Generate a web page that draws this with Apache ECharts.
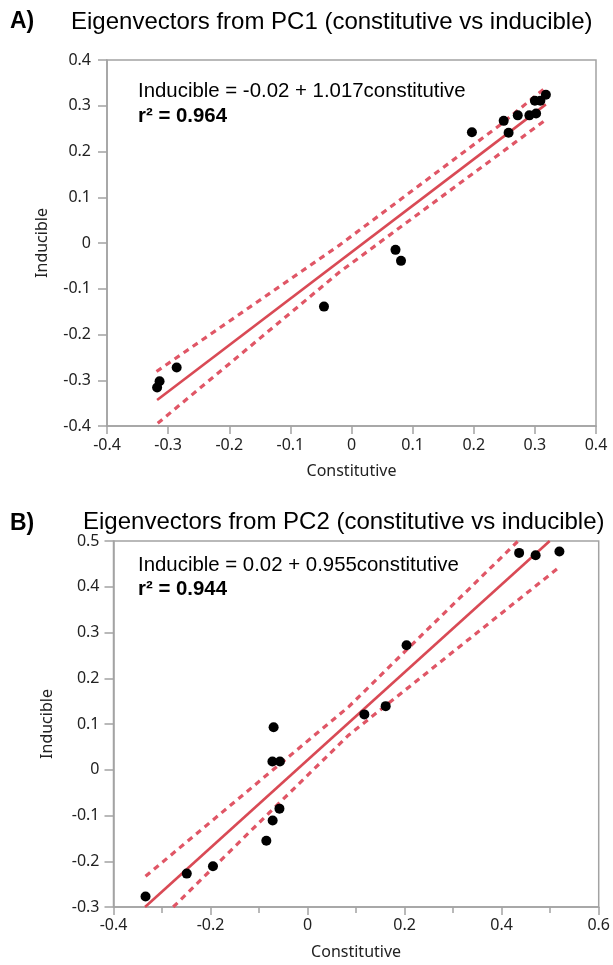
<!DOCTYPE html>
<html>
<head>
<meta charset="utf-8">
<script src="https://cdn.jsdelivr.net/npm/echarts@6/dist/echarts.min.js"></script>
<style>html,body{margin:0;padding:0;background:#fff;}#c{width:613px;height:965px;}</style>
</head>
<body>
<div id="c"></div>
<script>
// ---- Panel A (PC1) data ----
const pc1Constitutive = [0.318, 0.300, 0.309, 0.302, 0.291, 0.272, 0.249, 0.257, 0.197, 0.072, 0.081, -0.045, -0.286, -0.314, -0.318];
const pc1Inducible    = [0.324, 0.311, 0.311, 0.283, 0.279, 0.279, 0.267, 0.241, 0.242, -0.015, -0.039, -0.139, -0.272, -0.302, -0.316];
const pc1FitX   = [-0.318, 0.318];
const pc1FitY   = [-0.343, 0.303];
const pc1UpperX = [-0.319, -0.019, 0.243, 0.316];
const pc1UpperY = [-0.281, -0.004, 0.258, 0.338];
const pc1LowerX = [-0.317, -0.019, 0.316];
const pc1LowerY = [-0.394, -0.063, 0.2675];
const pc1XTicks = [-0.4, 0.4, 0.1];   // min, max, step
const pc1YTicks = [-0.4, 0.4, 0.1];

// ---- Panel B (PC2) data ----
const pc2Constitutive = [0.436, 0.470, 0.519, 0.204, 0.161, 0.117, -0.070, -0.0725, -0.057, -0.058, -0.072, -0.085, -0.195, -0.249, -0.334];
const pc2Inducible    = [0.474, 0.469, 0.477, 0.272, 0.139, 0.121, 0.093, 0.018, 0.018, -0.085, -0.111, -0.155, -0.211, -0.227, -0.277];
const pc2FitX   = [-0.335, 0.499];
const pc2FitY   = [-0.300, 0.500];
const pc2UpperX = [-0.334, -0.079, 0.085, 0.204, 0.434];
const pc2UpperY = [-0.233, -0.007, 0.138, 0.262, 0.500];
const pc2LowerX = [-0.277, -0.079, 0.085, 0.519];
const pc2LowerY = [-0.300, -0.094, 0.076, 0.443];
const pc2XTicks = [-0.4, 0.6, 0.2];
const pc2YTicks = [-0.3, 0.5, 0.1];

const titleA = 'Eigenvectors from PC1 (constitutive vs inducible)';
const titleB = 'Eigenvectors from PC2 (constitutive vs inducible)';
const eqA = 'Inducible = -0.02 + 1.017constitutive';
const r2A = 'r\u00B2 = 0.964';
const eqB = 'Inducible = 0.02 + 0.955constitutive';
const r2B = 'r\u00B2 = 0.944';

const zip = (xs, ys) => xs.map((x, i) => [x, ys[i]]);
const fmt = v => { const r = Math.round(v * 100) / 100; return r === 0 ? '0' : String(r); };

const AX = '#a3a3a3';
const LBL = '#222222';
const RED = '#d94a55';
const RED2 = '#e05666';
const axisFont = 'Noto Sans';
const txtFont = 'Liberation Sans, Arial, sans-serif';

function xAxis(grid, t, margin, minor) {
  return {
    type: 'value', gridIndex: grid, min: t[0], max: t[1], interval: t[2],
    name: 'Constitutive', nameLocation: 'middle', nameGap: 37,
    nameTextStyle: { color: LBL, fontFamily: axisFont, fontSize: 16 },
    axisLine: { show: true, onZero: false, lineStyle: { color: AX, width: 1.5 } },
    axisTick: { show: true, inside: false, length: 8, lineStyle: { color: AX, width: 1.5 } },
    minorTick: minor ? { show: true, splitNumber: 2, length: 6, lineStyle: { color: AX, width: 1.5 } } : { show: false },
    axisLabel: { color: LBL, fontFamily: axisFont, fontSize: 16, margin: margin, formatter: fmt, showMinLabel: true, showMaxLabel: true },
    splitLine: { show: false }
  };
}
function yAxis(grid, t, margin, gap) {
  return {
    type: 'value', gridIndex: grid, min: t[0], max: t[1], interval: t[2],
    name: 'Inducible', nameLocation: 'middle', nameGap: gap, nameRotate: 90,
    nameTextStyle: { color: LBL, fontFamily: axisFont, fontSize: 16 },
    axisLine: { show: true, onZero: false, lineStyle: { color: AX, width: 1.5 } },
    axisTick: { show: true, inside: false, length: 9, lineStyle: { color: AX, width: 1.5 } },
    axisLabel: { color: LBL, fontFamily: axisFont, fontSize: 16, margin: margin, formatter: fmt, showMinLabel: true, showMaxLabel: true },
    splitLine: { show: false }
  };
}
function lineSeries(idx, data, dashed) {
  return {
    type: 'line', xAxisIndex: idx, yAxisIndex: idx, data: data, showSymbol: false, symbol: 'none',
    clip: true, z: 2, silent: true,
    lineStyle: dashed ? { color: RED2, width: 3.2, type: [6, 5], opacity: 1 } : { color: RED, width: 2.6, opacity: 1 }
  };
}
function scatter(idx, data) {
  return {
    type: 'scatter', xAxisIndex: idx, yAxisIndex: idx, data: data, symbol: 'circle', symbolSize: 10,
    itemStyle: { color: '#000', opacity: 1 }, z: 5, silent: true
  };
}
function txt(x, y, text, size, bold) {
  return { type: 'text', x: x, y: y, z: 10, style: { text: text, fill: '#000', font: (bold ? 'bold ' : '') + size + 'px ' + txtFont, verticalAlign: 'middle', align: 'left' } };
}

const chart = echarts.init(document.getElementById('c'), null, { renderer: 'canvas' });
chart.setOption({
  animation: false,
  backgroundColor: '#fff',
  grid: [
    { left: 107, right: 17, top: 60, height: 366, show: true, borderColor: AX, borderWidth: 1.5, backgroundColor: '#fff' },
    { left: 113.5, right: 12, top: 541, height: 366, show: true, borderColor: AX, borderWidth: 1.5, backgroundColor: '#fff' }
  ],
  xAxis: [xAxis(0, pc1XTicks, 11, false), xAxis(1, pc2XTicks, 10, true)],
  yAxis: [yAxis(0, pc1YTicks, 16, 57), yAxis(1, pc2YTicks, 14, 58)],
  series: [
    lineSeries(0, zip(pc1UpperX, pc1UpperY), true),
    lineSeries(0, zip(pc1LowerX, pc1LowerY), true),
    lineSeries(0, zip(pc1FitX, pc1FitY), false),
    scatter(0, zip(pc1Constitutive, pc1Inducible)),
    lineSeries(1, zip(pc2UpperX, pc2UpperY), true),
    lineSeries(1, zip(pc2LowerX, pc2LowerY), true),
    lineSeries(1, zip(pc2FitX, pc2FitY), false),
    scatter(1, zip(pc2Constitutive, pc2Inducible))
  ],
  graphic: [
    txt(10, 22, 'A)', 23, true),
    txt(71, 22, titleA, 24, false),
    txt(10, 524, 'B)', 23, true),
    txt(83, 522, titleB, 24, false),
    txt(138, 91, eqA, 20.4, false),
    txt(138, 116, r2A, 20.4, true),
    txt(138, 565, eqB, 20.4, false),
    txt(138, 589, r2B, 20.4, true)
  ]
});
</script>
</body>
</html>
